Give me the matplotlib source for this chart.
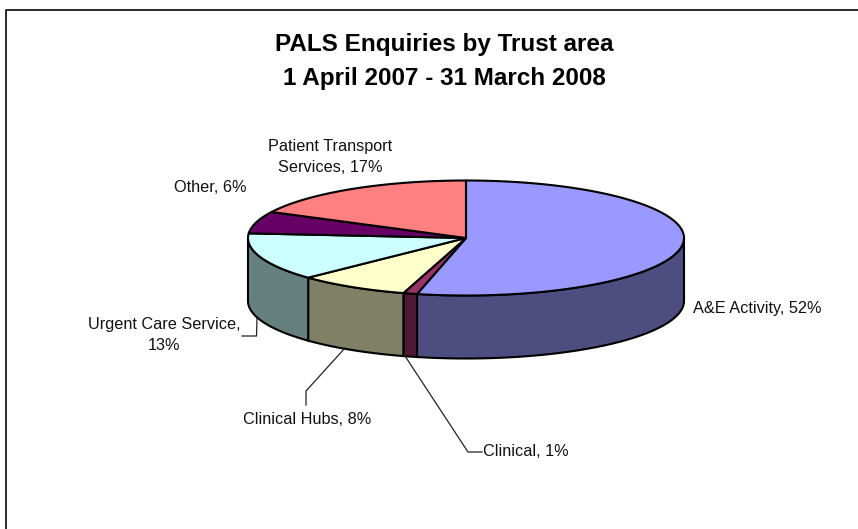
import numpy as np
import matplotlib
matplotlib.use("Agg")
import matplotlib.pyplot as plt

plt.rcParams['font.family'] = ['Liberation Sans', 'DejaVu Sans']

# Enquiry shares as labelled, clockwise from twelve o'clock
categories = ["A&E Activity", "Clinical", "Clinical Hubs",
              "Urgent Care Service", "Other", "Patient Transport Services"]
shares = [52, 1, 8, 13, 6, 17]
top_colours = ["#9999FF", "#993366", "#FFFFCC", "#CCFFFF", "#660066", "#FF8080"]
side_colours = ["#4D4D80", "#4D1933", "#808066", "#668080", "#330033", "#804040"]
title_lines = ["PALS Enquiries by Trust area", "1 April 2007 - 31 March 2008"]

CX, CY, RX, RY, DEPTH = 466, 238, 218, 57.5, 63

fig = plt.figure(figsize=(8.58, 5.29), dpi=100)
ax = fig.add_axes([0, 0, 1, 1])
ax.set_xlim(0, 858)
ax.set_ylim(529, 0)
ax.axis("off")


def rim(theta):
    """Point on the top ellipse for an angle measured clockwise from the top."""
    return CX + RX * np.sin(theta), CY - RY * np.cos(theta)


fractions = np.array(shares, dtype=float) / sum(shares)
edges = np.concatenate([[0], np.cumsum(fractions)]) * 2 * np.pi

# Side walls: only the front half of the disc (pi/2 .. 3pi/2) is visible
for i in range(len(shares)):
    lo = max(edges[i], np.pi / 2)
    hi = min(edges[i + 1], 3 * np.pi / 2)
    if lo >= hi:
        continue
    t = np.linspace(lo, hi, 200)
    x, y = rim(t)
    ax.fill(np.r_[x, x[::-1]], np.r_[y, y[::-1] + DEPTH],
            facecolor=side_colours[i], edgecolor="black", linewidth=1.5,
            joinstyle="round", zorder=2)

# Top faces
for i in range(len(shares)):
    t = np.linspace(edges[i], edges[i + 1], 300)
    x, y = rim(t)
    ax.fill(np.r_[CX, x], np.r_[CY, y],
            facecolor=top_colours[i], edgecolor="black", linewidth=1.5,
            joinstyle="round", zorder=3)

# Outer frame: the top and left borders of the chart area
ax.plot([5.5, 5.5, 858], [529, 9.5, 9.5], color="#1a1a1a", linewidth=1.3, zorder=1)

ax.text(444, 45, title_lines[0], ha="center", va="center",
        fontsize=17.5, fontweight="bold", color="black")
ax.text(444, 78, title_lines[1], ha="center", va="center",
        fontsize=17.5, fontweight="bold", color="black")

LABEL = dict(fontsize=11.7, color="#111111", ha="center", va="center", linespacing=1.5)
ax.text(330, 157, f"Patient Transport\nServices, {shares[5]}%", **LABEL)
ax.text(210, 188, f"{categories[4]}, {shares[4]}%", **LABEL)
ax.text(757.5, 309, f"{categories[0]}, {shares[0]}%", **LABEL)
ax.text(164, 335, f"{categories[3]},\n{shares[3]}%", **LABEL)
ax.text(307, 419, f"{categories[2]}, {shares[2]}%", **LABEL)
ax.text(526, 451, f"{categories[1]}, {shares[1]}%", **LABEL)

# Leader lines from the labels to their slices
LEADER = dict(color="#222222", linewidth=0.9, zorder=4)
ax.plot([242, 256.5, 257], [336, 336, 318], **LEADER)
ax.plot([306, 306, 345], [405, 391, 348], **LEADER)
ax.plot([482, 468, 405], [452, 452, 356], **LEADER)

fig.savefig("out.png", dpi=100)
